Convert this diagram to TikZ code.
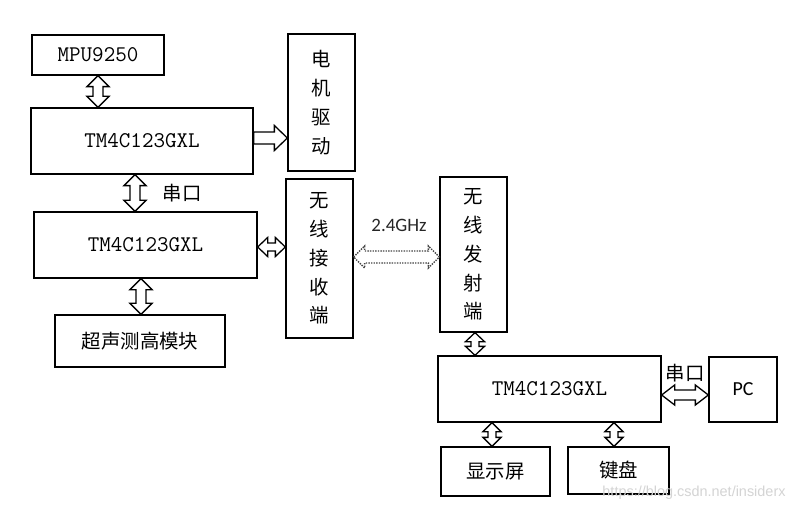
\documentclass[tikz,border=0pt]{standalone}
\usepackage{fontspec}
\newfontfamily\cjk{Noto Sans CJK SC}
\newfontfamily\calib{Carlito}
\newfontfamily\wmfont{Liberation Sans}
\usetikzlibrary{calc}
\definecolor{wmgray}{HTML}{D4D4D4}
\definecolor{dotgray}{HTML}{454545}
\tikzset{
  box/.style={draw, line width=1.3pt, inner sep=0pt, anchor=center},
  mcu/.style={box, font=\ttfamily\fontsize{22.5}{26}\selectfont},
  cn/.style={box, font=\cjk\fontsize{19.5}{24}\selectfont},
  vcn/.style={box, align=center, font=\cjk\fontsize{19.5}{29}\selectfont},
  lbl/.style={inner sep=0pt},
  arrowline/.style={draw, line width=1.3pt, fill=white, line join=miter},
}
% vertical double arrow: options, from (top), to (bottom), head half width, shaft half width, head length
\newcommand\vda[6][]{%
  \draw[arrowline,#1] let \p1=#2, \p2=#3 in
    (\x1,\y1) -- (\x1+#4,\y1-#6) -- (\x1+#5,\y1-#6) -- (\x1+#5,\y2+#6) -- (\x1+#4,\y2+#6)
    -- (\x1,\y2) -- (\x1-#4,\y2+#6) -- (\x1-#5,\y2+#6) -- (\x1-#5,\y1-#6) -- (\x1-#4,\y1-#6) -- cycle;}
% horizontal double arrow: options, from (left), to (right), head half height, shaft half height, head length
\newcommand\hda[6][]{%
  \draw[arrowline,#1] let \p1=#2, \p2=#3 in
    (\x1,\y1) -- (\x1+#6,\y1+#4) -- (\x1+#6,\y1+#5) -- (\x2-#6,\y1+#5) -- (\x2-#6,\y1+#4)
    -- (\x2,\y1) -- (\x2-#6,\y1-#4) -- (\x2-#6,\y1-#5) -- (\x1+#6,\y1-#5) -- (\x1+#6,\y1-#4) -- cycle;}
% horizontal single arrow pointing right
\newcommand\hsa[6][]{%
  \draw[arrowline,#1] let \p1=#2, \p2=#3 in
    (\x1,\y1+#5) -- (\x2-#6,\y1+#5) -- (\x2-#6,\y1+#4) -- (\x2,\y1)
    -- (\x2-#6,\y1-#4) -- (\x2-#6,\y1-#5) -- (\x1,\y1-#5) -- cycle;}
\begin{document}
\begin{tikzpicture}[x=1bp,y=-1bp]
\useasboundingbox (0,0) rectangle (804,512);
\fill[white] (0,0) rectangle (804,512);

\node[mcu, minimum width=132bp, minimum height=40bp] (mpu) at (98,55) {MPU9250};
\node[mcu, minimum width=222bp, minimum height=66bp] (tm1) at (142,141) {TM4C123GXL};
\node[vcn, minimum width=67bp, minimum height=137bp] (motor) at (321.5,102.5) {电\\机\\驱\\动};
\node[mcu, minimum width=223bp, minimum height=66bp] (tm2) at (145.5,245) {TM4C123GXL};
\node[vcn, minimum width=67bp, minimum height=159bp] (rx) at (319.5,258.5) {无\\线\\接\\收\\端};
\node[cn, minimum width=170bp, minimum height=52bp] (ultra) at (140,341) {超声测高模块};
\node[vcn, minimum width=67bp, minimum height=155bp] (tx) at (473.5,254.5) {无\\线\\发\\射\\端};
\node[mcu, minimum width=223bp, minimum height=66bp] (tm3) at (549.5,389) {TM4C123GXL};
\node[box, minimum width=68bp, minimum height=65bp, font=\calib\fontsize{20}{24}\selectfont] (pc) at (743,389.5) {PC};
\node[cn, minimum width=109bp, minimum height=49bp] (disp) at (495.5,471.5) {显示屏};
\node[cn, minimum width=101bp, minimum height=47bp] (kb) at (618.5,470.5) {键盘};

\node[lbl, font=\cjk\fontsize{19.5}{24}\selectfont] (uart1) at (182,193) {串口};
\node[lbl, font=\calib\fontsize{19}{24}\selectfont, text=black!85] (ghz) at (399,225) {2.4GHz};
\node[lbl, font=\cjk\fontsize{19.5}{24}\selectfont] (uart2) at (685,373) {串口};
\node[lbl, font=\wmfont\fontsize{14.5}{18}\selectfont, text=wmgray] (wm) at (694,493) {https://blog.csdn.net/insiderx};

\vda{(mpu.south)}{(tm1.north)}{11bp}{5bp}{11bp}
\hsa{($(tm1.east)+(0,-3)$)}{($(motor.west)+(0,-3)$)}{12.5bp}{6bp}{13bp}
\vda{($(tm1.south)+(-7,0)$)}{(tm2.north)}{11bp}{5bp}{11bp}
\hda{($(tm2.east)+(0,2)$)}{(rx.west)}{9.5bp}{4bp}{10bp}
\vda{($(tm2.south)+(-4.5,0)$)}{(ultra.north)}{11bp}{5bp}{11bp}
\hda[dash pattern=on 1.4pt off 1.2pt, draw=dotgray, line width=1.4pt]{($(rx.east)+(0,-1.5)$)}{(tx.west)}{11bp}{6bp}{11bp}
\vda{($(tx.south)+(1.5,0)$)}{(tm3.north)}{9.5bp}{4bp}{9bp}
\hda{($(tm3.east)+(0,6)$)}{(pc.west)}{10bp}{5bp}{13bp}
\vda{($(tm3.south)+(-57.5,0)$)}{(disp.north)}{9bp}{4bp}{9bp}
\vda{($(tm3.south)+(64.5,0)$)}{(kb.north)}{9bp}{4bp}{9bp}
\end{tikzpicture}
\end{document}
